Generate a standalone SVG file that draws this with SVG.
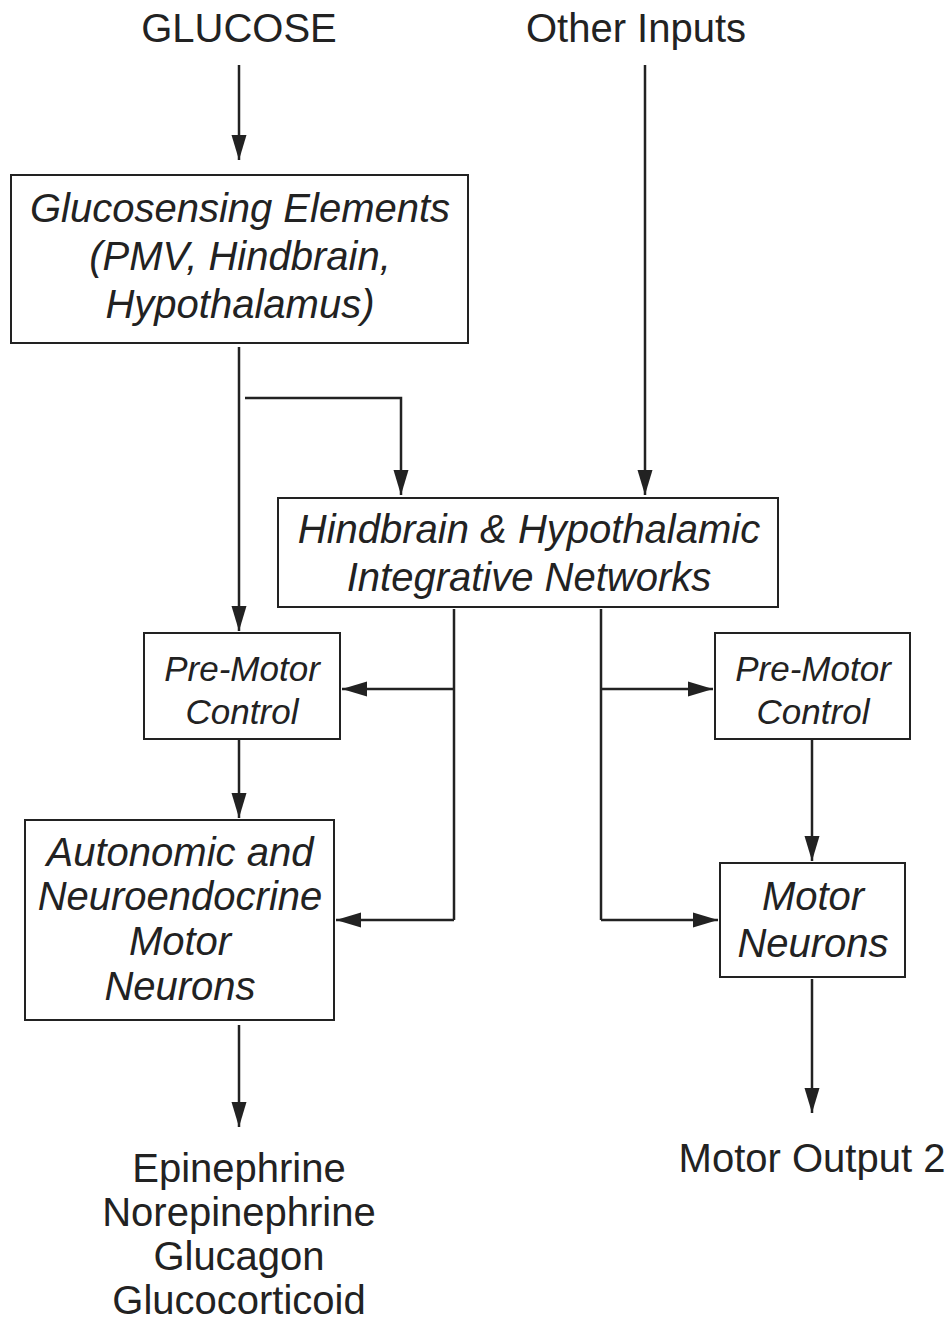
<svg xmlns="http://www.w3.org/2000/svg" width="951" height="1321" viewBox="0 0 951 1321">
<style>
.t{font-family:"Liberation Sans",Arial,sans-serif;font-size:40px;fill:#222;text-anchor:middle}
.i{font-style:italic}
.s{font-size:35px}
.box{fill:none;stroke:#222;stroke-width:2}
.c{fill:none;stroke:#222;stroke-width:2.5;marker-end:url(#ah)}
.cn{fill:none;stroke:#222;stroke-width:2.5}
</style>
<defs>
<marker id="ah" markerUnits="userSpaceOnUse" markerWidth="26" markerHeight="18" refX="25" refY="9" orient="auto" viewBox="0 0 26 18">
<path d="M0,1.5 L25,9 L0,16.5 z" fill="#222"/>
</marker>
</defs>
<rect width="951" height="1321" fill="#fff"/>
<g id="glucose"><text class="t" x="239" y="42">GLUCOSE</text></g>
<g id="other-inputs"><text class="t" x="636" y="42">Other Inputs</text></g>
<g id="glucosensing">
<rect class="box" x="11" y="175" width="457" height="168"/>
<text class="t i" x="240" y="222">Glucosensing Elements</text>
<text class="t i" x="240" y="270">(PMV, Hindbrain,</text>
<text class="t i" x="240" y="318">Hypothalamus)</text>
</g>
<g id="integrative">
<rect class="box" x="278" y="498" width="500" height="109"/>
<text class="t i" x="529" y="543">Hindbrain &amp; Hypothalamic</text>
<text class="t i" x="529" y="591">Integrative Networks</text>
</g>
<g id="premotor-left">
<rect class="box" x="144" y="633" width="196" height="106"/>
<text class="t i s" x="242" y="681">Pre-Motor</text>
<text class="t i s" x="242" y="724">Control</text>
</g>
<g id="premotor-right">
<rect class="box" x="715" y="633" width="195" height="106"/>
<text class="t i s" x="813" y="681">Pre-Motor</text>
<text class="t i s" x="813" y="724">Control</text>
</g>
<g id="autonomic">
<rect class="box" x="25" y="820" width="309" height="200"/>
<text class="t i" x="180" y="866">Autonomic and</text>
<text class="t i" x="180" y="910">Neuroendocrine</text>
<text class="t i" x="180" y="955">Motor</text>
<text class="t i" x="180" y="1000">Neurons</text>
</g>
<g id="motor-neurons">
<rect class="box" x="720" y="863" width="185" height="114"/>
<text class="t i" x="813" y="910">Motor</text>
<text class="t i" x="813" y="957">Neurons</text>
</g>
<g id="outputs-left">
<text class="t" x="239" y="1182">Epinephrine</text>
<text class="t" x="239" y="1226">Norepinephrine</text>
<text class="t" x="239" y="1270">Glucagon</text>
<text class="t" x="239" y="1314">Glucocorticoid</text>
</g>
<g id="motor-output"><text class="t" x="812" y="1172">Motor Output 2</text></g>
<g id="connectors">
<path class="c" d="M239,65 V160"/>
<path class="c" d="M645,65 V495"/>
<path class="c" d="M239,347 V631"/>
<path class="c" d="M245,398 H401 V495"/>
<path class="cn" d="M454,609 V920"/>
<path class="c" d="M454,689 H342"/>
<path class="c" d="M454,920 H336"/>
<path class="cn" d="M601,609 V920"/>
<path class="c" d="M601,689 H713"/>
<path class="c" d="M601,920 H718"/>
<path class="c" d="M239,739 V818"/>
<path class="c" d="M812,739 V861"/>
<path class="c" d="M239,1025 V1127"/>
<path class="c" d="M812,979 V1113"/>
</g>
</svg>
